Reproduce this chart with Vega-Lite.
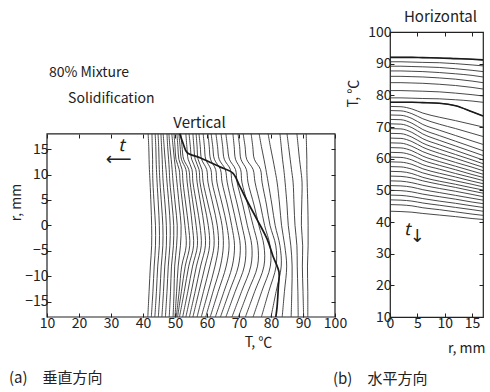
{
"$schema": "https://vega.github.io/schema/vega-lite/v6.json",
"background": "white",
"padding": {"left": 9, "top": 8, "right": 0, "bottom": 0},
"spacing": -15,
"config": {
  "font": "Noto Sans CJK JP",
  "view": {"stroke": "#222", "strokeWidth": 1.2},
  "axis": {"labelFont": "Noto Sans CJK JP", "labelFontSize": 14, "labelColor": "#222", "titleFont": "Noto Sans CJK JP", "titleFontSize": 14, "titleFontWeight": "normal", "titleColor": "#222", "tickColor": "#222", "tickSize": -4, "tickWidth": 1, "grid": false, "domain": false, "labelPadding": 3, "labelFlush": false},
  "title": {"font": "Noto Sans CJK JP", "fontSize": 15, "fontWeight": "normal", "color": "#222"},
  "text": {"font": "Noto Sans CJK JP", "fontSize": 14, "color": "#222"}
},
"datasets": {
"va": [
{"i":1,"r":18,"T":41.6},{"i":1,"r":15.5,"T":41.8},{"i":1,"r":13,"T":41.9},{"i":1,"r":11,"T":42.0},{"i":1,"r":8.5,"T":42.2},{"i":1,"r":4,"T":42.5},{"i":1,"r":0,"T":42.7},{"i":1,"r":-4,"T":42.7},{"i":1,"r":-8,"T":42.3},{"i":1,"r":-13,"T":41.9},{"i":1,"r":-18,"T":41.5},
{"i":2,"r":18,"T":42.8},{"i":2,"r":15.5,"T":42.9},{"i":2,"r":13,"T":43.0},{"i":2,"r":11,"T":43.0},{"i":2,"r":8.5,"T":43.1},{"i":2,"r":4,"T":43.5},{"i":2,"r":0,"T":43.9},{"i":2,"r":-4,"T":43.9},{"i":2,"r":-8,"T":43.5},{"i":2,"r":-13,"T":43.1},{"i":2,"r":-18,"T":42.6},
{"i":3,"r":18,"T":43.8},{"i":3,"r":15.5,"T":44.0},{"i":3,"r":13,"T":44.1},{"i":3,"r":11,"T":44.2},{"i":3,"r":8.5,"T":44.4},{"i":3,"r":4,"T":44.8},{"i":3,"r":0,"T":45.1},{"i":3,"r":-4,"T":45.1},{"i":3,"r":-8,"T":44.6},{"i":3,"r":-13,"T":44.2},{"i":3,"r":-18,"T":43.7},
{"i":4,"r":18,"T":44.7},{"i":4,"r":15.5,"T":44.9},{"i":4,"r":13,"T":45.0},{"i":4,"r":11,"T":45.1},{"i":4,"r":8.5,"T":45.3},{"i":4,"r":4,"T":45.8},{"i":4,"r":0,"T":46.2},{"i":4,"r":-4,"T":46.2},{"i":4,"r":-8,"T":45.7},{"i":4,"r":-13,"T":45.3},{"i":4,"r":-18,"T":44.8},
{"i":5,"r":18,"T":45.6},{"i":5,"r":15.5,"T":45.8},{"i":5,"r":13,"T":46.0},{"i":5,"r":11,"T":46.1},{"i":5,"r":8.5,"T":46.3},{"i":5,"r":4,"T":46.9},{"i":5,"r":0,"T":47.3},{"i":5,"r":-4,"T":47.3},{"i":5,"r":-8,"T":46.8},{"i":5,"r":-13,"T":46.4},{"i":5,"r":-18,"T":45.9},
{"i":6,"r":18,"T":46.3},{"i":6,"r":15.5,"T":46.6},{"i":6,"r":13,"T":46.9},{"i":6,"r":11,"T":47.2},{"i":6,"r":8.5,"T":47.5},{"i":6,"r":4,"T":48.1},{"i":6,"r":0,"T":48.5},{"i":6,"r":-4,"T":48.4},{"i":6,"r":-8,"T":47.9},{"i":6,"r":-13,"T":47.5},{"i":6,"r":-18,"T":47.0},
{"i":7,"r":18,"T":47.5},{"i":7,"r":15.5,"T":47.7},{"i":7,"r":13,"T":48.0},{"i":7,"r":11,"T":48.2},{"i":7,"r":8.5,"T":48.4},{"i":7,"r":4,"T":49.1},{"i":7,"r":0,"T":49.6},{"i":7,"r":-4,"T":49.5},{"i":7,"r":-8,"T":48.9},{"i":7,"r":-13,"T":48.6},{"i":7,"r":-18,"T":48.2},
{"i":8,"r":18,"T":48.1},{"i":8,"r":15.5,"T":48.4},{"i":8,"r":13,"T":48.8},{"i":8,"r":11,"T":49.1},{"i":8,"r":8.5,"T":49.4},{"i":8,"r":4,"T":50.1},{"i":8,"r":0,"T":50.7},{"i":8,"r":-4,"T":50.5},{"i":8,"r":-8,"T":49.9},{"i":8,"r":-13,"T":49.7},{"i":8,"r":-18,"T":49.4},
{"i":9,"r":18,"T":49.0},{"i":9,"r":15.5,"T":49.4},{"i":9,"r":13,"T":49.8},{"i":9,"r":11,"T":50.2},{"i":9,"r":8.5,"T":50.6},{"i":9,"r":4,"T":51.3},{"i":9,"r":0,"T":51.9},{"i":9,"r":-4,"T":51.7},{"i":9,"r":-8,"T":51.0},{"i":9,"r":-13,"T":50.5},{"i":9,"r":-18,"T":50.0},
{"i":10,"r":18,"T":49.7},{"i":10,"r":15.5,"T":50.0},{"i":10,"r":13,"T":50.3},{"i":10,"r":11,"T":51.3},{"i":10,"r":8.5,"T":51.6},{"i":10,"r":4,"T":52.4},{"i":10,"r":0,"T":53.1},{"i":10,"r":-4,"T":53.5},{"i":10,"r":-8,"T":52.1},{"i":10,"r":-13,"T":51.3},{"i":10,"r":-18,"T":50.4},
{"i":11,"r":18,"T":50.6},{"i":11,"r":15.5,"T":50.9},{"i":11,"r":13,"T":51.2},{"i":11,"r":11,"T":52.2},{"i":11,"r":8.5,"T":52.5},{"i":11,"r":4,"T":53.4},{"i":11,"r":0,"T":54.2},{"i":11,"r":-4,"T":54.6},{"i":11,"r":-8,"T":53.2},{"i":11,"r":-13,"T":52.0},{"i":11,"r":-18,"T":50.8},
{"i":12,"r":18,"T":51.2},{"i":12,"r":15.5,"T":51.6},{"i":12,"r":13,"T":52.0},{"i":12,"r":11,"T":53.4},{"i":12,"r":8.5,"T":53.8},{"i":12,"r":4,"T":54.7},{"i":12,"r":0,"T":55.4},{"i":12,"r":-4,"T":55.8},{"i":12,"r":-8,"T":54.3},{"i":12,"r":-13,"T":52.9},{"i":12,"r":-18,"T":51.4},
{"i":13,"r":18,"T":51.8},{"i":13,"r":15.5,"T":52.2},{"i":13,"r":13,"T":52.7},{"i":13,"r":11,"T":54.3},{"i":13,"r":8.5,"T":54.7},{"i":13,"r":4,"T":55.7},{"i":13,"r":0,"T":56.6},{"i":13,"r":-4,"T":57.0},{"i":13,"r":-8,"T":55.5},{"i":13,"r":-13,"T":54.0},{"i":13,"r":-18,"T":52.4},
{"i":14,"r":18,"T":53.4},{"i":14,"r":15.5,"T":53.7},{"i":14,"r":13,"T":54.1},{"i":14,"r":11,"T":55.3},{"i":14,"r":8.5,"T":55.6},{"i":14,"r":4,"T":56.8},{"i":14,"r":0,"T":57.8},{"i":14,"r":-4,"T":58.2},{"i":14,"r":-8,"T":56.7},{"i":14,"r":-13,"T":55.1},{"i":14,"r":-18,"T":53.4},
{"i":15,"r":18,"T":54.4},{"i":15,"r":15.5,"T":54.8},{"i":15,"r":13,"T":55.2},{"i":15,"r":11,"T":56.5},{"i":15,"r":8.5,"T":56.9},{"i":15,"r":4,"T":58.1},{"i":15,"r":0,"T":59.1},{"i":15,"r":-4,"T":59.5},{"i":15,"r":-8,"T":58.0},{"i":15,"r":-13,"T":56.3},{"i":15,"r":-18,"T":54.5},
{"i":16,"r":18,"T":55.6},{"i":16,"r":15.5,"T":55.9},{"i":16,"r":13,"T":56.3},{"i":16,"r":11,"T":57.5},{"i":16,"r":8.5,"T":57.8},{"i":16,"r":4,"T":59.2},{"i":16,"r":0,"T":60.4},{"i":16,"r":-4,"T":60.8},{"i":16,"r":-8,"T":59.4},{"i":16,"r":-13,"T":57.5},{"i":16,"r":-18,"T":55.6},
{"i":17,"r":18,"T":56.6},{"i":17,"r":15.5,"T":56.9},{"i":17,"r":13,"T":57.2},{"i":17,"r":11,"T":58.4},{"i":17,"r":8.5,"T":58.8},{"i":17,"r":4,"T":60.4},{"i":17,"r":0,"T":61.8},{"i":17,"r":-4,"T":62.2},{"i":17,"r":-8,"T":60.9},{"i":17,"r":-13,"T":58.9},{"i":17,"r":-18,"T":56.9},
{"i":18,"r":18,"T":57.5},{"i":18,"r":15.5,"T":57.9},{"i":18,"r":13,"T":58.3},{"i":18,"r":11,"T":59.9},{"i":18,"r":8.5,"T":60.3},{"i":18,"r":4,"T":61.9},{"i":18,"r":0,"T":63.2},{"i":18,"r":-4,"T":63.6},{"i":18,"r":-8,"T":62.5},{"i":18,"r":-13,"T":60.4},{"i":18,"r":-18,"T":58.2},
{"i":19,"r":18,"T":58.8},{"i":19,"r":15.5,"T":59.2},{"i":19,"r":13,"T":59.6},{"i":19,"r":11,"T":61.2},{"i":19,"r":8.5,"T":61.6},{"i":19,"r":4,"T":63.3},{"i":19,"r":0,"T":64.7},{"i":19,"r":-4,"T":65.1},{"i":19,"r":-8,"T":64.2},{"i":19,"r":-13,"T":61.9},{"i":19,"r":-18,"T":59.6},
{"i":20,"r":18,"T":60.3},{"i":20,"r":15.5,"T":60.7},{"i":20,"r":13,"T":61.1},{"i":20,"r":11,"T":62.7},{"i":20,"r":8.5,"T":63.1},{"i":20,"r":4,"T":64.8},{"i":20,"r":0,"T":66.2},{"i":20,"r":-4,"T":66.9},{"i":20,"r":-8,"T":66.0},{"i":20,"r":-13,"T":63.5},{"i":20,"r":-18,"T":61.0},
{"i":21,"r":18,"T":61.3},{"i":21,"r":15.5,"T":61.8},{"i":21,"r":13,"T":62.3},{"i":21,"r":11,"T":64.2},{"i":21,"r":8.5,"T":64.7},{"i":21,"r":4,"T":66.4},{"i":21,"r":0,"T":67.7},{"i":21,"r":-4,"T":68.6},{"i":21,"r":-8,"T":67.9},{"i":21,"r":-13,"T":65.3},{"i":21,"r":-18,"T":62.6},
{"i":22,"r":18,"T":62.8},{"i":22,"r":15.5,"T":63.3},{"i":22,"r":13,"T":63.8},{"i":22,"r":11,"T":65.7},{"i":22,"r":8.5,"T":66.3},{"i":22,"r":4,"T":67.9},{"i":22,"r":0,"T":69.3},{"i":22,"r":-4,"T":70.4},{"i":22,"r":-8,"T":69.8},{"i":22,"r":-13,"T":67.0},{"i":22,"r":-18,"T":64.2},
{"i":23,"r":18,"T":64.4},{"i":23,"r":15.5,"T":64.9},{"i":23,"r":13,"T":65.4},{"i":23,"r":11,"T":67.3},{"i":23,"r":8.5,"T":67.8},{"i":23,"r":4,"T":69.5},{"i":23,"r":0,"T":70.9},{"i":23,"r":-4,"T":72.1},{"i":23,"r":-8,"T":71.7},{"i":23,"r":-13,"T":68.8},{"i":23,"r":-18,"T":65.9},
{"i":24,"r":18,"T":65.9},{"i":24,"r":15.5,"T":66.4},{"i":24,"r":13,"T":67.0},{"i":24,"r":11,"T":68.9},{"i":24,"r":8.5,"T":69.4},{"i":24,"r":4,"T":71.2},{"i":24,"r":0,"T":72.6},{"i":24,"r":-4,"T":74.0},{"i":24,"r":-8,"T":73.7},{"i":24,"r":-13,"T":70.8},{"i":24,"r":-18,"T":67.8},
{"i":25,"r":18,"T":68.1},{"i":25,"r":15.5,"T":68.5},{"i":25,"r":13,"T":68.9},{"i":25,"r":11,"T":70.5},{"i":25,"r":8.5,"T":70.9},{"i":25,"r":4,"T":72.8},{"i":25,"r":0,"T":74.4},{"i":25,"r":-4,"T":75.9},{"i":25,"r":-8,"T":75.8},{"i":25,"r":-13,"T":72.8},{"i":25,"r":-18,"T":69.8},
{"i":26,"r":18,"T":69.7},{"i":26,"r":15.5,"T":70.2},{"i":26,"r":13,"T":70.6},{"i":26,"r":11,"T":72.3},{"i":26,"r":8.5,"T":72.8},{"i":26,"r":4,"T":74.7},{"i":26,"r":0,"T":76.2},{"i":26,"r":-4,"T":77.8},{"i":26,"r":-8,"T":77.8},{"i":26,"r":-13,"T":74.9},{"i":26,"r":-18,"T":72.0},
{"i":27,"r":18,"T":71.3},{"i":27,"r":15.5,"T":71.9},{"i":27,"r":13,"T":72.4},{"i":27,"r":11,"T":74.4},{"i":27,"r":8.5,"T":75.0},{"i":27,"r":4,"T":76.7},{"i":27,"r":0,"T":78.0},{"i":27,"r":-4,"T":79.7},{"i":27,"r":-8,"T":79.8},{"i":27,"r":-13,"T":77.1},{"i":27,"r":-18,"T":74.4},
{"i":28,"r":18,"T":73.8},{"i":28,"r":15.5,"T":74.3},{"i":28,"r":13,"T":74.8},{"i":28,"r":11,"T":76.7},{"i":28,"r":8.5,"T":77.2},{"i":28,"r":4,"T":78.6},{"i":28,"r":0,"T":79.7},{"i":28,"r":-4,"T":81.5},{"i":28,"r":-8,"T":81.6},{"i":28,"r":-13,"T":79.3},{"i":28,"r":-18,"T":77.0},
{"i":29,"r":18,"T":76.3},{"i":29,"r":15.5,"T":77.0},{"i":29,"r":13,"T":77.8},{"i":29,"r":11,"T":78.4},{"i":29,"r":8.5,"T":79.1},{"i":29,"r":4,"T":80.3},{"i":29,"r":0,"T":81.3},{"i":29,"r":-4,"T":82.8},{"i":29,"r":-8,"T":83.2},{"i":29,"r":-13,"T":81.6},{"i":29,"r":-18,"T":80.0},
{"i":30,"r":18,"T":79.1},{"i":30,"r":15.5,"T":79.8},{"i":30,"r":13,"T":80.6},{"i":30,"r":11,"T":81.2},{"i":30,"r":8.5,"T":81.9},{"i":30,"r":4,"T":82.7},{"i":30,"r":0,"T":83.3},{"i":30,"r":-4,"T":84.3},{"i":30,"r":-8,"T":84.9},{"i":30,"r":-13,"T":84.2},{"i":30,"r":-18,"T":83.5},
{"i":31,"r":18,"T":82.8},{"i":31,"r":15.5,"T":83.2},{"i":31,"r":13,"T":83.6},{"i":31,"r":11,"T":84.0},{"i":31,"r":8.5,"T":84.4},{"i":31,"r":4,"T":85.0},{"i":31,"r":0,"T":85.4},{"i":31,"r":-4,"T":86.2},{"i":31,"r":-8,"T":86.6},{"i":31,"r":-13,"T":86.5},{"i":31,"r":-18,"T":86.3},
{"i":32,"r":18,"T":85.0},{"i":32,"r":15.5,"T":85.5},{"i":32,"r":13,"T":86.0},{"i":32,"r":11,"T":86.4},{"i":32,"r":8.5,"T":86.9},{"i":32,"r":4,"T":87.2},{"i":32,"r":0,"T":87.5},{"i":32,"r":-4,"T":88.1},{"i":32,"r":-8,"T":88.2},{"i":32,"r":-13,"T":88.4},{"i":32,"r":-18,"T":88.5},
{"i":33,"r":18,"T":88.1},{"i":33,"r":15.5,"T":88.5},{"i":33,"r":13,"T":88.9},{"i":33,"r":11,"T":89.3},{"i":33,"r":8.5,"T":89.7},{"i":33,"r":4,"T":89.6},{"i":33,"r":0,"T":89.5},{"i":33,"r":-4,"T":89.9},{"i":33,"r":-8,"T":89.8},{"i":33,"r":-13,"T":90.0},{"i":33,"r":-18,"T":90.2},
{"i":34,"r":18,"T":91.0},{"i":34,"r":15.5,"T":91.1},{"i":34,"r":13,"T":91.2},{"i":34,"r":11,"T":91.2},{"i":34,"r":8.5,"T":91.3},{"i":34,"r":4,"T":91.5},{"i":34,"r":0,"T":91.6},{"i":34,"r":-4,"T":91.6},{"i":34,"r":-8,"T":91.4},{"i":34,"r":-13,"T":91.5},{"i":34,"r":-18,"T":91.5}
],
"vh": [
{"r":18,"T":51.5},{"r":16,"T":52.6},{"r":14.3,"T":53.8},{"r":13.3,"T":57.8},{"r":11.5,"T":64.0},{"r":10.3,"T":68.0},{"r":7.6,"T":70.3},{"r":4.5,"T":72.8},{"r":1.2,"T":75.6},{"r":-2.7,"T":78.8},{"r":-6,"T":80.6},{"r":-9.2,"T":82.5},{"r":-12,"T":82.3},{"r":-16,"T":81.9},{"r":-18,"T":81.5}
],
"hb": [
{"i":1,"r":0,"T":92.0},{"i":1,"r":2,"T":92.0},{"i":1,"r":4,"T":92.0},{"i":1,"r":6,"T":91.9},{"i":1,"r":9,"T":91.8},{"i":1,"r":12,"T":91.6},{"i":1,"r":15,"T":91.4},{"i":1,"r":17,"T":91.2},
{"i":2,"r":0,"T":90.6},{"i":2,"r":2,"T":90.6},{"i":2,"r":4,"T":90.5},{"i":2,"r":6,"T":90.4},{"i":2,"r":9,"T":90.3},{"i":2,"r":12,"T":90.0},{"i":2,"r":15,"T":89.6},{"i":2,"r":17,"T":89.3},
{"i":3,"r":0,"T":89.2},{"i":3,"r":2,"T":89.2},{"i":3,"r":4,"T":89.1},{"i":3,"r":6,"T":89.0},{"i":3,"r":9,"T":88.8},{"i":3,"r":12,"T":88.4},{"i":3,"r":15,"T":87.9},{"i":3,"r":17,"T":87.5},
{"i":4,"r":0,"T":87.7},{"i":4,"r":2,"T":87.7},{"i":4,"r":4,"T":87.6},{"i":4,"r":6,"T":87.5},{"i":4,"r":9,"T":87.2},{"i":4,"r":12,"T":86.8},{"i":4,"r":15,"T":86.3},{"i":4,"r":17,"T":85.8},
{"i":5,"r":0,"T":86.0},{"i":5,"r":2,"T":86.0},{"i":5,"r":4,"T":85.9},{"i":5,"r":6,"T":85.8},{"i":5,"r":9,"T":85.5},{"i":5,"r":12,"T":85.1},{"i":5,"r":15,"T":84.5},{"i":5,"r":17,"T":84.0},
{"i":6,"r":0,"T":84.0},{"i":6,"r":2,"T":84.0},{"i":6,"r":4,"T":83.9},{"i":6,"r":6,"T":83.8},{"i":6,"r":9,"T":83.5},{"i":6,"r":12,"T":83.1},{"i":6,"r":15,"T":82.5},{"i":6,"r":17,"T":82.0},
{"i":7,"r":0,"T":81.5},{"i":7,"r":2,"T":81.5},{"i":7,"r":4,"T":81.4},{"i":7,"r":6,"T":81.3},{"i":7,"r":9,"T":81.1},{"i":7,"r":12,"T":80.7},{"i":7,"r":15,"T":80.2},{"i":7,"r":17,"T":79.8},
{"i":8,"r":0,"T":79.2},{"i":8,"r":2,"T":79.2},{"i":8,"r":4,"T":79.1},{"i":8,"r":6,"T":79.0},{"i":8,"r":9,"T":78.9},{"i":8,"r":12,"T":78.6},{"i":8,"r":15,"T":78.2},{"i":8,"r":17,"T":77.8},
{"i":9,"r":0,"T":77.8},{"i":9,"r":2,"T":77.8},{"i":9,"r":4,"T":77.8},{"i":9,"r":6,"T":77.7},{"i":9,"r":9,"T":77.5},{"i":9,"r":12,"T":76.7},{"i":9,"r":15,"T":74.8},{"i":9,"r":17,"T":73.5},
{"i":10,"r":0,"T":76.5},{"i":10,"r":2,"T":76.4},{"i":10,"r":4,"T":75.7},{"i":10,"r":6,"T":74.4},{"i":10,"r":9,"T":73.1},{"i":10,"r":12,"T":72.0},{"i":10,"r":15,"T":70.8},{"i":10,"r":17,"T":70.0},
{"i":11,"r":0,"T":75.2},{"i":11,"r":2,"T":75.1},{"i":11,"r":4,"T":74.2},{"i":11,"r":6,"T":72.6},{"i":11,"r":9,"T":70.9},{"i":11,"r":12,"T":69.5},{"i":11,"r":15,"T":68.0},{"i":11,"r":17,"T":67.0},
{"i":12,"r":0,"T":73.8},{"i":12,"r":2,"T":73.7},{"i":12,"r":4,"T":72.7},{"i":12,"r":6,"T":70.8},{"i":12,"r":9,"T":69.0},{"i":12,"r":12,"T":67.3},{"i":12,"r":15,"T":65.6},{"i":12,"r":17,"T":64.5},
{"i":13,"r":0,"T":72.4},{"i":13,"r":2,"T":72.3},{"i":13,"r":4,"T":71.2},{"i":13,"r":6,"T":69.2},{"i":13,"r":9,"T":67.3},{"i":13,"r":12,"T":65.5},{"i":13,"r":15,"T":63.7},{"i":13,"r":17,"T":62.5},
{"i":14,"r":0,"T":71.0},{"i":14,"r":2,"T":70.9},{"i":14,"r":4,"T":69.8},{"i":14,"r":6,"T":67.8},{"i":14,"r":9,"T":65.8},{"i":14,"r":12,"T":64.0},{"i":14,"r":15,"T":62.2},{"i":14,"r":17,"T":61.0},
{"i":15,"r":0,"T":69.5},{"i":15,"r":2,"T":69.4},{"i":15,"r":4,"T":68.3},{"i":15,"r":6,"T":66.3},{"i":15,"r":9,"T":64.4},{"i":15,"r":12,"T":62.6},{"i":15,"r":15,"T":60.8},{"i":15,"r":17,"T":59.6},
{"i":16,"r":0,"T":68.0},{"i":16,"r":2,"T":67.9},{"i":16,"r":4,"T":66.8},{"i":16,"r":6,"T":64.9},{"i":16,"r":9,"T":63.0},{"i":16,"r":12,"T":61.3},{"i":16,"r":15,"T":59.6},{"i":16,"r":17,"T":58.4},
{"i":17,"r":0,"T":66.5},{"i":17,"r":2,"T":66.4},{"i":17,"r":4,"T":65.4},{"i":17,"r":6,"T":63.6},{"i":17,"r":9,"T":61.7},{"i":17,"r":12,"T":60.1},{"i":17,"r":15,"T":58.4},{"i":17,"r":17,"T":57.3},
{"i":18,"r":0,"T":65.0},{"i":18,"r":2,"T":64.9},{"i":18,"r":4,"T":63.9},{"i":18,"r":6,"T":62.2},{"i":18,"r":9,"T":60.4},{"i":18,"r":12,"T":58.8},{"i":18,"r":15,"T":57.3},{"i":18,"r":17,"T":56.2},
{"i":19,"r":0,"T":63.5},{"i":19,"r":2,"T":63.4},{"i":19,"r":4,"T":62.5},{"i":19,"r":6,"T":60.8},{"i":19,"r":9,"T":59.1},{"i":19,"r":12,"T":57.6},{"i":19,"r":15,"T":56.1},{"i":19,"r":17,"T":55.1},
{"i":20,"r":0,"T":62.0},{"i":20,"r":2,"T":61.9},{"i":20,"r":4,"T":61.1},{"i":20,"r":6,"T":59.5},{"i":20,"r":9,"T":57.9},{"i":20,"r":12,"T":56.5},{"i":20,"r":15,"T":55.0},{"i":20,"r":17,"T":54.1},
{"i":21,"r":0,"T":60.5},{"i":21,"r":2,"T":60.4},{"i":21,"r":4,"T":59.6},{"i":21,"r":6,"T":58.1},{"i":21,"r":9,"T":56.7},{"i":21,"r":12,"T":55.3},{"i":21,"r":15,"T":54.0},{"i":21,"r":17,"T":53.1},
{"i":22,"r":0,"T":59.0},{"i":22,"r":2,"T":58.9},{"i":22,"r":4,"T":58.2},{"i":22,"r":6,"T":56.8},{"i":22,"r":9,"T":55.4},{"i":22,"r":12,"T":54.2},{"i":22,"r":15,"T":52.9},{"i":22,"r":17,"T":52.1},
{"i":23,"r":0,"T":57.5},{"i":23,"r":2,"T":57.4},{"i":23,"r":4,"T":56.7},{"i":23,"r":6,"T":55.5},{"i":23,"r":9,"T":54.2},{"i":23,"r":12,"T":53.0},{"i":23,"r":15,"T":51.9},{"i":23,"r":17,"T":51.1},
{"i":24,"r":0,"T":56.0},{"i":24,"r":2,"T":55.9},{"i":24,"r":4,"T":55.3},{"i":24,"r":6,"T":54.1},{"i":24,"r":9,"T":52.9},{"i":24,"r":12,"T":51.9},{"i":24,"r":15,"T":50.8},{"i":24,"r":17,"T":50.1},
{"i":25,"r":0,"T":54.5},{"i":25,"r":2,"T":54.4},{"i":25,"r":4,"T":53.9},{"i":25,"r":6,"T":53.0},{"i":25,"r":9,"T":51.9},{"i":25,"r":12,"T":50.9},{"i":25,"r":15,"T":49.8},{"i":25,"r":17,"T":49.1},
{"i":26,"r":0,"T":53.0},{"i":26,"r":2,"T":52.9},{"i":26,"r":4,"T":52.4},{"i":26,"r":6,"T":51.6},{"i":26,"r":9,"T":50.6},{"i":26,"r":12,"T":49.7},{"i":26,"r":15,"T":48.7},{"i":26,"r":17,"T":48.0},
{"i":27,"r":0,"T":51.5},{"i":27,"r":2,"T":51.4},{"i":27,"r":4,"T":51.0},{"i":27,"r":6,"T":50.2},{"i":27,"r":9,"T":49.3},{"i":27,"r":12,"T":48.4},{"i":27,"r":15,"T":47.5},{"i":27,"r":17,"T":46.9},
{"i":28,"r":0,"T":50.0},{"i":28,"r":2,"T":49.9},{"i":28,"r":4,"T":49.5},{"i":28,"r":6,"T":48.8},{"i":28,"r":9,"T":48.0},{"i":28,"r":12,"T":47.2},{"i":28,"r":15,"T":46.3},{"i":28,"r":17,"T":45.8},
{"i":29,"r":0,"T":48.5},{"i":29,"r":2,"T":48.4},{"i":29,"r":4,"T":48.0},{"i":29,"r":6,"T":47.4},{"i":29,"r":9,"T":46.6},{"i":29,"r":12,"T":45.9},{"i":29,"r":15,"T":45.1},{"i":29,"r":17,"T":44.6},
{"i":30,"r":0,"T":47.0},{"i":30,"r":2,"T":46.9},{"i":30,"r":4,"T":46.6},{"i":30,"r":6,"T":46.0},{"i":30,"r":9,"T":45.3},{"i":30,"r":12,"T":44.6},{"i":30,"r":15,"T":43.9},{"i":30,"r":17,"T":43.4},
{"i":31,"r":0,"T":45.5},{"i":31,"r":2,"T":45.4},{"i":31,"r":4,"T":45.1},{"i":31,"r":6,"T":44.5},{"i":31,"r":9,"T":43.9},{"i":31,"r":12,"T":43.2},{"i":31,"r":15,"T":42.5},{"i":31,"r":17,"T":42.1},
{"i":32,"r":0,"T":43.4},{"i":32,"r":2,"T":43.3},{"i":32,"r":4,"T":43.1},{"i":32,"r":6,"T":42.7},{"i":32,"r":9,"T":42.2},{"i":32,"r":12,"T":41.7},{"i":32,"r":15,"T":41.1},{"i":32,"r":17,"T":40.8}
]
},
"hconcat": [
{
  "width": 288, "height": 285,
  "view": {"stroke": null},
  "title": {"text": "(a)　垂直方向", "orient": "bottom", "anchor": "start", "offset": 22},
  "layer": [
    {
      "data": {"values": [{"T1": 10, "T2": 100, "r1": -18, "r2": 18}]},
      "mark": {"type": "rect", "fill": "white", "fillOpacity": 0, "stroke": "#222", "strokeWidth": 1.2},
      "encoding": {
        "x": {"field": "T1", "type": "quantitative", "scale": {"domain": [10, 100], "nice": false, "zero": false},
              "axis": {"orient": "top", "offset": -102, "labels": false, "values": [10,20,30,40,50,60,70,80,90,100], "title": "Vertical", "titleX": 152, "titleY": -12, "titleBaseline": "middle", "titleFontSize": 15}},
        "x2": {"field": "T2"},
        "y": {"field": "r1", "type": "quantitative", "scale": {"domain": [-18, 38], "nice": false, "zero": false},
              "axis": {"orient": "right", "labels": false, "values": [-15,-10,-5,0,5,10,15], "title": null}},
        "y2": {"field": "r2"}
      }
    },
    {
      "data": {"name": "va"},
      "mark": {"type": "line", "interpolate": "catmull-rom", "stroke": "#333", "strokeWidth": 0.9},
      "encoding": {
        "x": {"field": "T", "type": "quantitative", "axis": {"orient": "bottom", "values": [10,20,30,40,50,60,70,80,90,100], "title": "T, ℃", "titleX": 211, "titleY": 25, "titleBaseline": "middle"}},
        "y": {"field": "r", "type": "quantitative", "axis": {"orient": "left", "values": [-15,-10,-5,0,5,10,15], "title": "r, mm", "titleX": -31, "titleY": 170, "titleBaseline": "middle"}},
        "detail": {"field": "i", "type": "nominal"},
        "order": {"field": "r", "type": "quantitative"}
      }
    },
    {
      "data": {"name": "vh"},
      "mark": {"type": "line", "interpolate": "catmull-rom", "stroke": "#1a1a1a", "strokeWidth": 1.7},
      "encoding": {
        "x": {"field": "T", "type": "quantitative", "axis": null},
        "y": {"field": "r", "type": "quantitative", "axis": null},
        "order": {"field": "r", "type": "quantitative"}
      }
    },
    {
      "data": {"values": [{"T": 10.6, "r": 29.9, "txt": "80% Mixture"}, {"T": 16.6, "r": 24.8, "txt": "Solidification"}]},
      "mark": {"type": "text", "align": "left", "baseline": "middle", "fontSize": 14},
      "encoding": {
        "x": {"field": "T", "type": "quantitative", "axis": null},
        "y": {"field": "r", "type": "quantitative", "axis": null},
        "text": {"field": "txt"}
      }
    },
    {
      "data": {"values": [{"T": 33.2, "r": 15.6, "txt": "t"}]},
      "mark": {"type": "text", "align": "center", "baseline": "middle", "fontSize": 17, "fontStyle": "italic"},
      "encoding": {
        "x": {"field": "T", "type": "quantitative", "axis": null},
        "y": {"field": "r", "type": "quantitative", "axis": null},
        "text": {"field": "txt"}
      }
    },
    {
      "data": {"values": [{"T": 32.4, "r": 12.8, "txt": "⟵"}]},
      "mark": {"type": "text", "align": "center", "baseline": "middle", "fontSize": 18, "font": "DejaVu Sans"},
      "encoding": {
        "x": {"field": "T", "type": "quantitative", "axis": null},
        "y": {"field": "r", "type": "quantitative", "axis": null},
        "text": {"field": "txt"}
      }
    }
  ],
  "resolve": {"axis": {"x": "independent", "y": "independent"}}
},
{
  "width": 93, "height": 285,
  "title": {"text": "(b)　水平方向", "orient": "bottom", "anchor": "start", "offset": 17, "dx": -13},
  "layer": [
    {
      "data": {"values": [{"r": 0, "T": 10}]},
      "mark": {"type": "point", "opacity": 0},
      "encoding": {
        "x": {"field": "r", "type": "quantitative", "scale": {"domain": [0, 17], "nice": false, "zero": false},
              "axis": {"orient": "top", "labels": false, "values": [0,5,10,15], "title": "Horizontal", "titleX": 50, "titleY": -16, "titleBaseline": "middle", "titleFontSize": 15}},
        "y": {"field": "T", "type": "quantitative", "scale": {"domain": [10, 100], "nice": false, "zero": false},
              "axis": {"orient": "right", "labels": false, "values": [10,20,30,40,50,60,70,80,90,100], "title": null}}
      }
    },
    {
      "data": {"name": "hb"},
      "mark": {"type": "line", "interpolate": "monotone", "stroke": "#333", "strokeWidth": 0.9},
      "encoding": {
        "x": {"field": "r", "type": "quantitative", "axis": {"orient": "bottom", "values": [0,5,10,15], "title": "r, mm", "titleX": 95, "titleAlign": "right", "titleY": 31, "titleBaseline": "middle"}},
        "y": {"field": "T", "type": "quantitative", "axis": {"orient": "left", "values": [10,20,30,40,50,60,70,80,90,100], "title": "T, ℃", "titleX": -37, "titleY": 61, "titleBaseline": "middle"}},
        "detail": {"field": "i", "type": "nominal"},
        "order": {"field": "r", "type": "quantitative"}
      }
    },
    {
      "data": {"name": "hb"},
      "transform": [{"filter": "datum.i == 1 || datum.i == 9"}],
      "mark": {"type": "line", "interpolate": "monotone", "stroke": "#1a1a1a", "strokeWidth": 1.6},
      "encoding": {
        "x": {"field": "r", "type": "quantitative", "axis": null},
        "y": {"field": "T", "type": "quantitative", "axis": null},
        "detail": {"field": "i", "type": "nominal"},
        "order": {"field": "r", "type": "quantitative"}
      }
    },
    {
      "data": {"values": [{"r": 3.1, "T": 37.6, "txt": "t"}]},
      "mark": {"type": "text", "align": "center", "baseline": "middle", "fontSize": 17, "fontStyle": "italic"},
      "encoding": {
        "x": {"field": "r", "type": "quantitative", "axis": null},
        "y": {"field": "T", "type": "quantitative", "axis": null},
        "text": {"field": "txt"}
      }
    },
    {
      "data": {"values": [{"r": 5.0, "T": 35.2, "txt": "↓"}]},
      "mark": {"type": "text", "align": "center", "baseline": "middle", "fontSize": 18, "font": "DejaVu Sans"},
      "encoding": {
        "x": {"field": "r", "type": "quantitative", "axis": null},
        "y": {"field": "T", "type": "quantitative", "axis": null},
        "text": {"field": "txt"}
      }
    }
  ],
  "resolve": {"axis": {"x": "independent", "y": "independent"}}
}
]
}
